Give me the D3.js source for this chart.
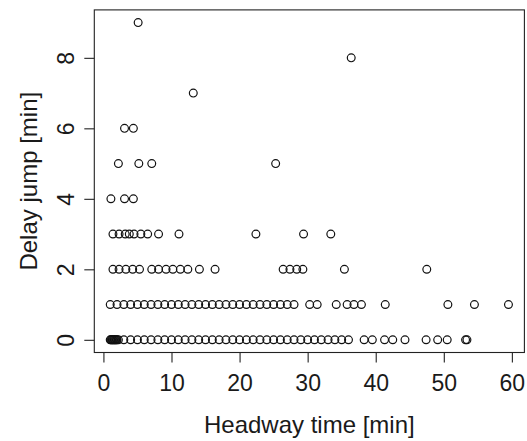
<!DOCTYPE html>
<html>
<head>
<meta charset="utf-8">
<script src="https://cdn.jsdelivr.net/npm/d3@7"></script>
<style>
  html, body { margin: 0; padding: 0; background: #fff; }
  svg { display: block; }
  text { font-family: "Liberation Sans", Arial, Helvetica, sans-serif; fill: #1a1a1a; }
</style>
</head>
<body>
<svg id="chart" width="527" height="441"></svg>
<script>
// Headway time [min] for each observed delay jump value [min]
const delay0 = [1, 1.1, 1.2, 1.3, 1.4, 1.5, 1.6, 1.7, 1.8, 1.9, 2, 2.2, 3, 4, 5, 6, 7, 8, 9, 10, 11, 12, 13, 14, 15, 16, 17, 18, 19, 20, 21, 22, 23, 24, 25, 26, 27, 28, 29, 30, 31, 32, 33, 34, 35, 36, 38.3, 39.5, 41.3, 42.5, 44.3, 47.4, 49.1, 50.5, 53.2, 53.4];
const delay1 = [1, 2, 3, 4, 5, 6, 7, 8, 9, 10, 11, 12, 13, 14, 15, 16, 17, 18, 19, 20, 21, 22, 23, 24, 25, 26, 27, 28, 30.3, 31.4, 34.2, 35.8, 36.8, 37.9, 41.4, 50.6, 54.5, 59.5];
const delay2 = [1.4, 2.3, 3.3, 4.3, 5.3, 7.1, 8.1, 9.2, 10.2, 11.3, 12.4, 14.1, 16.4, 26.4, 27.4, 28.4, 29.3, 35.4, 47.5];
const delay3 = [1.4, 2.3, 3.2, 3.8, 4.5, 5.5, 6.5, 8.1, 11.1, 22.4, 29.4, 33.4];
const delay4 = [1.1, 3.1, 4.4];
const delay5 = [2.2, 5.2, 7.1, 25.3];
const delay6 = [3.1, 4.4];
const delay7 = [13.2];
const delay8 = [36.4];
const delay9 = [5.1];

const delayValues = [0, 1, 2, 3, 4, 5, 6, 7, 8, 9];
const headwaysByDelay = [delay0, delay1, delay2, delay3, delay4, delay5, delay6, delay7, delay8, delay9];

const xTicks = [0, 10, 20, 30, 40, 50, 60];
const yTicks = [0, 2, 4, 6, 8];
const xLabel = "Headway time [min]";
const yLabel = "Delay jump [min]";

// build point table
const points = [];
headwaysByDelay.forEach((arr, i) => arr.forEach(h => points.push({ x: h, y: delayValues[i] })));

const svg = d3.select("#chart");
const box = { left: 94.3, right: 524.4, top: 9.9, bottom: 352.5 };

// R-style 4% extended ranges
const xe = d3.extent(points, d => d.x), ye = d3.extent(points, d => d.y);
const xp = (xe[1] - xe[0]) * 0.04, yp = (ye[1] - ye[0]) * 0.04;
const x = d3.scaleLinear().domain([xe[0] - xp, xe[1] + xp]).range([box.left, box.right]);
const y = d3.scaleLinear().domain([ye[0] - yp, ye[1] + yp]).range([box.bottom, box.top]);

// points
svg.append("g")
  .selectAll("circle")
  .data(points)
  .join("circle")
  .attr("cx", d => x(d.x))
  .attr("cy", d => y(d.y))
  .attr("r", 3.9)
  .attr("fill", "none")
  .attr("stroke", "#111")
  .attr("stroke-width", 1.2);

// plot box
svg.append("rect")
  .attr("x", box.left).attr("y", box.top)
  .attr("width", box.right - box.left).attr("height", box.bottom - box.top)
  .attr("fill", "none").attr("stroke", "#222").attr("stroke-width", 1.1);

// x axis
const gx = svg.append("g")
  .attr("transform", `translate(0,${box.bottom})`)
  .call(d3.axisBottom(x).tickValues(xTicks).tickSize(10).tickSizeOuter(0).tickPadding(0));
gx.select(".domain").remove();
gx.selectAll(".tick line").attr("stroke", "#222").attr("stroke-width", 1.1);
gx.selectAll(".tick text")
  .attr("y", 38).attr("dy", null)
  .style("font-size", "23px")
  .attr("fill", "#1a1a1a");

// y axis
const gy = svg.append("g")
  .attr("transform", `translate(${box.left},0)`)
  .call(d3.axisLeft(y).tickValues(yTicks).tickSize(10).tickSizeOuter(0).tickPadding(0));
gy.select(".domain").remove();
gy.selectAll(".tick line").attr("stroke", "#222").attr("stroke-width", 1.1);
gy.selectAll(".tick text")
  .attr("x", null).attr("dy", null)
  .attr("text-anchor", "middle")
  .attr("transform", "translate(-20.5,0) rotate(-90)")
  .style("font-size", "23px")
  .attr("fill", "#1a1a1a");

// axis titles
svg.append("text")
  .attr("x", (box.left + box.right) / 2)
  .attr("y", 433)
  .attr("text-anchor", "middle")
  .style("font-size", "24px")
  .text(xLabel);

svg.append("text")
  .attr("transform", `translate(36.5,${(box.top + box.bottom) / 2}) rotate(-90)`)
  .attr("text-anchor", "middle")
  .style("font-size", "24px")
  .text(yLabel);
</script>
</body>
</html>
